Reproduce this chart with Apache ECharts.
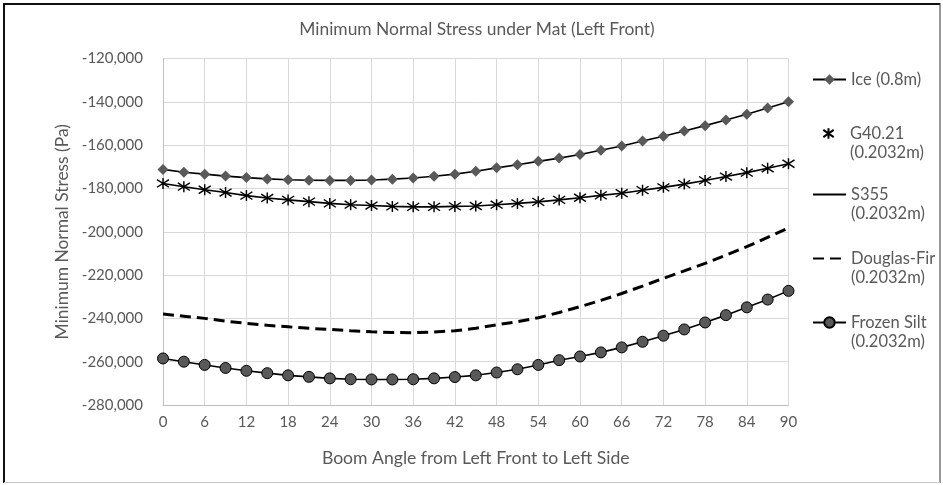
<!DOCTYPE html>
<html>
<head>
<meta charset="utf-8">
<script src="https://cdn.jsdelivr.net/npm/echarts@6/dist/echarts.min.js"></script>
<style>
html,body{margin:0;padding:0;background:#fff;}
#chart{width:943px;height:485px;}
</style>
</head>
<body>
<div id="chart"></div>
<script>
var angles = [0,3,6,9,12,15,18,21,24,27,30,33,36,39,42,45,48,51,54,57,60,63,66,69,72,75,78,81,84,87,90];
var xTicks = [0,6,12,18,24,30,36,42,48,54,60,66,72,78,84,90];
var yTicks = [-280000,-260000,-240000,-220000,-200000,-180000,-160000,-140000,-120000];

var ice = [-171200,-172500,-173400,-174300,-175000,-175600,-176000,-176200,-176300,-176300,-176100,-175700,-175200,-174400,-173400,-172100,-170500,-169100,-167500,-166000,-164300,-162400,-160400,-158100,-155900,-153500,-151000,-148400,-145700,-142900,-140000];
var g4021 = [-177700,-179200,-180600,-181900,-183300,-184400,-185300,-186100,-186900,-187500,-187900,-188300,-188500,-188500,-188300,-188100,-187500,-186900,-186200,-185300,-184300,-183200,-182200,-180800,-179500,-178000,-176300,-174500,-172700,-170700,-168600];
var s355 = [-177700,-179200,-180600,-181900,-183300,-184400,-185300,-186100,-186900,-187500,-187900,-188300,-188500,-188500,-188300,-188100,-187500,-186900,-186200,-185300,-184300,-183200,-182200,-180800,-179500,-178000,-176300,-174500,-172700,-170700,-168600];
var douglasFir = [-238000,-239000,-240000,-241300,-242300,-243200,-243900,-244600,-245100,-245700,-246200,-246500,-246600,-246300,-245700,-244600,-243000,-241500,-239700,-237300,-234600,-231700,-228500,-225100,-221500,-218100,-214600,-210800,-206900,-202600,-198200];
var frozenSilt = [-258500,-260000,-261500,-262900,-264200,-265300,-266300,-267000,-267700,-268100,-268200,-268200,-268100,-267700,-267100,-266300,-265000,-263500,-261500,-259300,-257600,-255700,-253400,-250800,-248000,-245100,-241900,-238500,-234900,-231300,-227300];

var names = ['Ice (0.8m)', 'G40.21\n(0.2032m)', 'S355\n(0.2032m)', 'Douglas-Fir\n(0.2032m)', 'Frozen Silt\n(0.2032m)'];

function pairs(vals){ return angles.map(function(a,i){ return [a, vals[i]]; }); }

var FONT = 'Lato';
var TXT = '#595959';

function fmt(v){
  var s = Math.abs(v).toString().replace(/\B(?=(\d{3})+(?!\d))/g, ',');
  return (v < 0 ? '-' : '') + s;
}

function mkLegend(name, top, multi){
  return {
    data: [name],
    orient: 'vertical',
    left: 812,
    top: top,
    padding: 0,
    itemWidth: 33,
    itemHeight: 13,
    itemGap: 0,
    selectedMode: false,
    formatter: function(n){ return multi ? '\n' + n : n; },
    textStyle: {fontFamily: FONT, fontSize: 16.5, color: TXT, lineHeight: 19}
  };
}

var chart = echarts.init(document.getElementById('chart'));
chart.setOption({
  animation: false,
  backgroundColor: '#fff',
  title: {
    text: 'Minimum Normal Stress under Mat (Left Front)',
    left: 472, top: 16, textAlign: 'center',
    textStyle: {fontFamily: FONT, fontSize: 17.4, fontWeight: 'normal', color: TXT}
  },
  legend: [
    mkLegend(names[0], 70, false),
    mkLegend(names[1], 105, true),
    mkLegend(names[2], 166, true),
    mkLegend(names[3], 230, true),
    mkLegend(names[4], 294, true)
  ],
  grid: {left: 163, right: 154.5, top: 58.5, bottom: 80, containLabel: false},
  xAxis: {
    type: 'value', min: 0, max: 90, interval: 6,
    name: 'Boom Angle from Left Front to Left Side',
    nameLocation: 'middle', nameGap: 44,
    nameTextStyle: {fontFamily: FONT, fontSize: 17.6, color: TXT},
    axisLine: {lineStyle: {color: '#bfbfbf', width: 1}},
    axisTick: {show: false},
    axisLabel: {fontFamily: FONT, fontSize: 15, color: TXT, margin: 10,
      formatter: function(v){ return xTicks.indexOf(v) >= 0 ? String(v) : ''; }},
    splitLine: {show: true, lineStyle: {color: '#d9d9d9', width: 1}}
  },
  yAxis: {
    type: 'value', min: -280000, max: -120000, interval: 20000,
    name: 'Minimum Normal Stress (Pa)',
    nameLocation: 'middle', nameGap: 84, nameRotate: 90,
    nameTextStyle: {fontFamily: FONT, fontSize: 17.4, color: TXT},
    axisLine: {show: true, lineStyle: {color: '#bfbfbf', width: 1}},
    axisTick: {show: false},
    axisLabel: {fontFamily: FONT, fontSize: 15, color: TXT, margin: 20,
      formatter: function(v){ return yTicks.indexOf(v) >= 0 ? fmt(v) : ''; }},
    splitLine: {show: true, lineStyle: {color: '#d9d9d9', width: 1}}
  },
  graphic: [
    {type: 'line', shape: {x1: 4, y1: 4, x2: 940, y2: 4}, style: {stroke: '#111', lineWidth: 2}, z: 100},
    {type: 'line', shape: {x1: 4, y1: 3, x2: 4, y2: 483}, style: {stroke: '#111', lineWidth: 2}, z: 100},
    {type: 'line', shape: {x1: 940, y1: 3, x2: 940, y2: 483}, style: {stroke: '#333', lineWidth: 1}, z: 100},
    {type: 'line', shape: {x1: 4, y1: 482.5, x2: 940, y2: 482.5}, style: {stroke: '#c8c8c8', lineWidth: 1}, z: 100}
  ],
  series: [
    {
      name: names[0], type: 'line', data: pairs(ice),
      symbol: 'diamond', symbolSize: 11, showSymbol: true,
      lineStyle: {color: '#000', width: 1.6},
      itemStyle: {color: '#595959', borderWidth: 0}
    },
    {
      name: names[1], type: 'line', data: pairs(g4021),
      symbol: 'path://M5,0L5,10M0,1.5L10,8.5M10,1.5L0,8.5', symbolSize: [12, 11], showSymbol: true,
      lineStyle: {width: 0, color: 'rgba(0,0,0,0)'},
      itemStyle: {color: 'rgba(0,0,0,0)', borderColor: '#000', borderWidth: 1.4}
    },
    {
      name: names[2], type: 'line', data: pairs(s355),
      symbol: 'none', showSymbol: false,
      lineStyle: {color: '#000', width: 1.6},
      itemStyle: {color: 'rgba(0,0,0,0)', borderWidth: 0}
    },
    {
      name: names[3], type: 'line', data: pairs(douglasFir),
      symbol: 'none', showSymbol: false,
      lineStyle: {color: '#000', width: 3, type: [11, 6]},
      itemStyle: {color: 'rgba(0,0,0,0)', borderWidth: 0}
    },
    {
      name: names[4], type: 'line', data: pairs(frozenSilt),
      symbol: 'circle', symbolSize: 11, showSymbol: true,
      lineStyle: {color: '#000', width: 1.6},
      itemStyle: {color: '#595959', borderColor: '#000', borderWidth: 1}
    }
  ]
});
</script>
</body>
</html>
